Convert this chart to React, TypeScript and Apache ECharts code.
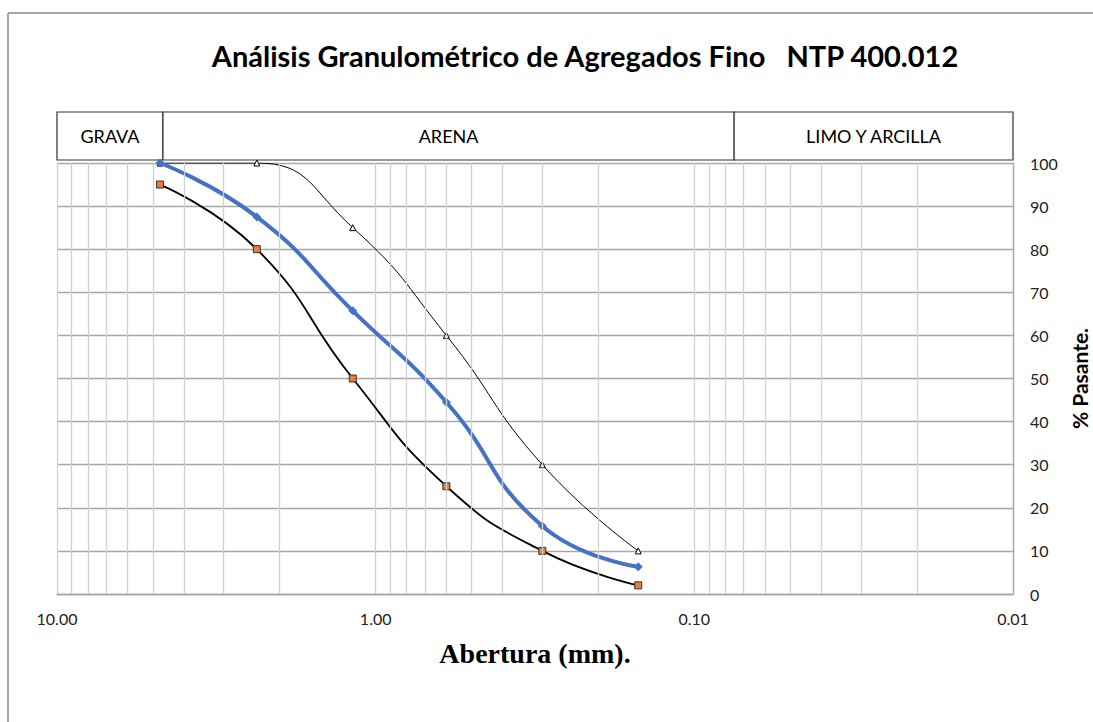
import React, { useEffect, useRef } from "react";
import * as echarts from "echarts";

const sieveSizes = [4.75, 2.36, 1.18, 0.6, 0.3, 0.15];
const upperLimit = [100, 100, 85, 60, 30, 10];
const lowerLimit = [95, 80, 50, 25, 10, 2];
const sample = [100, 87.5, 65.7, 44.5, 15.8, 6.3];
const minorGrid = [
  9, 8, 7, 6, 5, 4, 3, 2,
  0.9, 0.8, 0.7, 0.6, 0.5, 0.4, 0.3, 0.2,
  0.09, 0.08, 0.07, 0.06, 0.05, 0.04, 0.03, 0.02,
];
const zoneNames = ["GRAVA", "ARENA", "LIMO Y ARCILLA"];
const zoneBounds = [10, 4.65, 0.075, 0.01];

const TITLE = "Análisis Granulométrico de Agregados Fino   NTP 400.012";
const FONT = "Lato, 'Open Sans', sans-serif";

export default function App() {
  const ref = useRef<HTMLDivElement>(null);
  useEffect(() => {
    if (!ref.current) return;
    const chart = echarts.init(ref.current, undefined, { renderer: "svg", width: 1093, height: 722 });
    const pair = (ys: number[]) => sieveSizes.map((x, i) => [x, ys[i]]);
    const gridTop = 163;
    chart.setOption({
      animation: false,
      backgroundColor: "#fff",
      grid: { left: 57, right: 80, top: gridTop, bottom: 128, containLabel: false, outerBoundsMode: "none" },
      xAxis: {
        type: "log",
        logBase: 10,
        min: 0.01,
        max: 10,
        inverse: true,
        interval: 1,
        axisLine: { show: true, lineStyle: { color: "#a6a6a6", width: 1.3 } },
        axisTick: { show: false },
        axisLabel: {
          margin: 16,
          fontFamily: FONT,
          fontSize: 16,
          color: "#222",
          formatter: (v: number) => v.toFixed(2),
        },
        splitLine: { show: true, lineStyle: { color: "#d0d0d0", width: 1.3 } },
        name: "Abertura (mm).",
        nameLocation: "middle",
        nameGap: 45,
        nameTextStyle: {
          fontFamily: "'Liberation Serif', 'Times New Roman', serif",
          fontWeight: "bold",
          fontSize: 28,
          color: "#000",
        },
      },
      yAxis: {
        type: "value",
        position: "right",
        min: 0,
        max: 100,
        interval: 10,
        axisLine: { show: true, lineStyle: { color: "#a6a6a6", width: 1.3 } },
        axisTick: { show: false },
        axisLabel: { margin: 17, fontFamily: FONT, fontSize: 16, color: "#222", align: "left" },
        splitLine: { show: true, lineStyle: { color: "#a6a6a6", width: 1.3 } },
        name: "% Pasante.",
        nameLocation: "middle",
        nameRotate: 90,
        nameGap: 54,
        nameTextStyle: { fontFamily: FONT, fontWeight: "bold", fontSize: 21, color: "#000" },
      },
      series: [
        {
          type: "line",
          data: [],
          z: 1,
          silent: true,
          markLine: {
            silent: true,
            symbol: "none",
            label: { show: false },
            lineStyle: { color: "#d0d0d0", width: 1.3, type: "solid" },
            data: minorGrid.map((v) => ({ xAxis: v })),
          },
        },
        {
          name: "Límite superior",
          type: "line",
          data: pair(upperLimit),
          smooth: 0.5,
          z: 3,
          symbol: "triangle",
          symbolSize: 6,
          lineStyle: { color: "#000", width: 1 },
          itemStyle: { color: "#fff", borderColor: "#000", borderWidth: 1 },
        },
        {
          name: "Límite inferior",
          type: "line",
          data: pair(lowerLimit),
          smooth: 0.5,
          z: 3,
          symbol: "rect",
          symbolSize: 7,
          lineStyle: { color: "#000", width: 1.8 },
          itemStyle: { color: "#ED7D31", borderColor: "#333", borderWidth: 1 },
        },
        {
          name: "Muestra",
          type: "line",
          data: pair(sample),
          smooth: 0.5,
          z: 4,
          symbol: "diamond",
          symbolSize: 9,
          lineStyle: { color: "#4472C4", width: 4 },
          itemStyle: { color: "#4472C4" },
        },
      ],
    });

    const px = zoneBounds.map((b) => chart.convertToPixel({ xAxisIndex: 0 }, b) as number);
    const boxTop = gridTop - 51;
    const boxH = 48;
    const graphics: any[] = [
      { type: "line", shape: { x1: 8, y1: 13, x2: 1093, y2: 13 }, style: { stroke: "#888", lineWidth: 1.5 } },
      { type: "line", shape: { x1: 8, y1: 13, x2: 8, y2: 722 }, style: { stroke: "#888", lineWidth: 1.5 } },
      {
        type: "text",
        x: 585,
        y: 55,
        style: {
          text: TITLE,
          fontFamily: FONT,
          fontWeight: "bold",
          fontSize: 29,
          fill: "#000",
          textAlign: "center",
          textVerticalAlign: "middle",
        },
      },
    ];
    zoneNames.forEach((name, i) => {
      const x0 = Math.min(px[i], px[i + 1]);
      const x1 = Math.max(px[i], px[i + 1]);
      graphics.push({
        type: "rect",
        shape: { x: x0, y: boxTop, width: x1 - x0, height: boxH },
        style: { fill: "#fff", stroke: "#333", lineWidth: 1.2 },
      });
      graphics.push({
        type: "text",
        x: (x0 + x1) / 2,
        y: boxTop + boxH / 2,
        style: {
          text: name,
          fontFamily: FONT,
          fontSize: 18,
          fill: "#000",
          textAlign: "center",
          textVerticalAlign: "middle",
        },
      });
    });
    chart.setOption({ graphic: graphics });
    return () => chart.dispose();
  }, []);
  return (
    <div
      ref={ref}
      style={{ position: "absolute", left: 0, top: 0, width: 1093, height: 722 }}
    />
  );
}
